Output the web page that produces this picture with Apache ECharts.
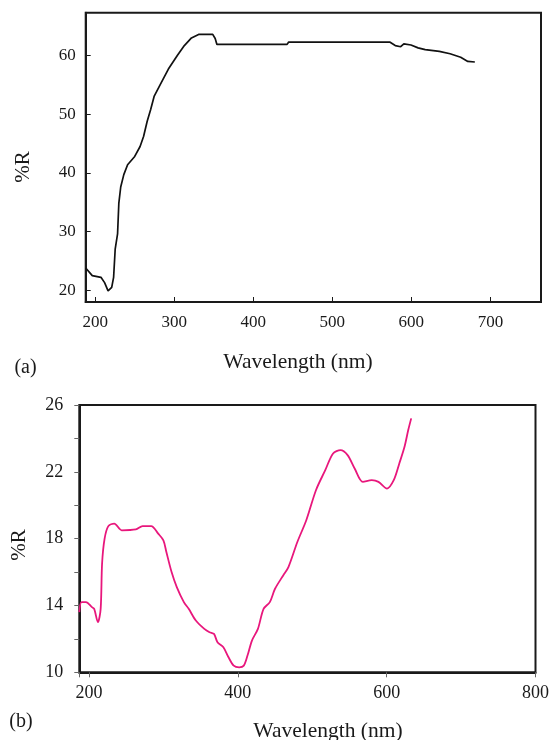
<!DOCTYPE html>
<html>
<head>
  <meta charset="utf-8">
  <title>Reflectance spectra</title>
  <script src="https://cdn.jsdelivr.net/npm/echarts@6/dist/echarts.min.js"></script>
  <style>
    html, body { margin: 0; padding: 0; background: #fff; }
    #chart { width: 552px; height: 740px; }
  </style>
</head>
<body>
  <div id="chart"></div>
  <script>
    // (a) reflectance, black curve
    var wavelengthA = [188, 196.3, 207.3, 211.9, 216.3, 220.9, 223.3, 225.3, 228.3, 229.9, 232.3, 236.2, 241, 250, 256.8, 261.2, 265.8, 270.2, 274.7, 283.6, 292.6, 303.9, 312.8, 321.8, 330.8, 348.7, 351.8, 354, 442.8, 444.8, 572.6, 579.6, 586.5, 590.5, 599.5, 608.5, 617.5, 635.4, 649, 662.4, 671.4, 680.3];
    var reflA = [23.8, 22.5, 22.2, 21.3, 19.9, 20.5, 22.2, 27, 29.6, 34.8, 37.6, 39.7, 41.4, 42.8, 44.5, 46.2, 48.8, 50.8, 53.1, 55.4, 57.7, 60, 61.7, 63, 63.6, 63.6, 62.9, 61.9, 61.9, 62.3, 62.3, 61.7, 61.5, 62, 61.8, 61.3, 61, 60.7, 60.3, 59.7, 59, 58.9];

    // (b) reflectance, pink curve
    var wavelengthB = [187, 190, 196, 204, 207, 212, 215.7, 217.6, 221, 226, 234, 244, 263, 272, 283.6, 293, 300, 304, 311, 318, 327.5, 334, 343.6, 355, 362, 368, 372.7, 380.6, 387.5, 394.5, 401.8, 408, 413, 419, 427, 434.6, 443, 450, 461, 468, 480, 492, 505, 517.5, 528, 538, 547.5, 557, 568, 580, 589, 600.5, 609.5, 617, 624, 629, 633];
    var reflB = [13.6, 14.2, 14.2, 13.9, 13.8, 13.0, 13.8, 16.5, 18, 18.75, 18.9, 18.5, 18.55, 18.75, 18.75, 18.3, 17.9, 17.2, 16, 15.1, 14.2, 13.8, 13.1, 12.6, 12.4, 12.3, 11.8, 11.5, 10.9, 10.4, 10.3, 10.4, 11, 11.9, 12.6, 13.8, 14.2, 15.0, 15.8, 16.3, 17.8, 19.1, 20.9, 22.1, 23.1, 23.3, 23.0, 22.2, 21.4, 21.5, 21.4, 21.0, 21.5, 22.5, 23.5, 24.5, 25.2];

    function pairs(xs, ys) {
      return xs.map(function (x, i) { return [x, ys[i]]; });
    }

    var serif = "'Liberation Serif', 'DejaVu Serif', serif";
    var ink = '#1a1a1a';

    var chart = echarts.init(document.getElementById('chart'));
    chart.setOption({
      animation: false,
      backgroundColor: '#fff',
      grid: [
        { left: 85.7, top: 12.7, width: 455.3, height: 289.3, show: true, borderColor: ink, borderWidth: 2, containLabel: false },
        { left: 79.3, top: 405, width: 464, height: 267.3, show: true, borderColor: ink, borderWidth: 2, containLabel: false }
      ],
      xAxis: [
        {
          gridIndex: 0, type: 'value', min: 188, max: 764,
          axisLine: { show: true, lineStyle: { color: ink, width: 2 } },
          axisTick: { show: true, inside: true, length: 5, lineStyle: { color: ink } },
          splitLine: { show: false },
          axisLabel: {
            margin: 12, color: ink, fontFamily: serif, fontSize: 17,
            formatter: function (v) { return v % 100 === 0 ? String(v) : ''; }
          }
        },
        {
          gridIndex: 1, type: 'value', min: 187, max: 800, splitNumber: 3,
          axisLine: { show: true, lineStyle: { color: ink, width: 2 } },
          axisTick: { show: true, inside: false, length: 5, lineStyle: { color: '#666' } },
          splitLine: { show: false },
          axisLabel: {
            margin: 12, color: ink, fontFamily: serif, fontSize: 18,
            formatter: function (v) { return v % 200 === 0 ? String(v) : ''; }
          }
        }
      ],
      yAxis: [
        {
          gridIndex: 0, type: 'value', min: 18, max: 67.3,
          axisLine: { show: true, lineStyle: { color: ink, width: 2 } },
          axisTick: { show: true, inside: true, length: 5, lineStyle: { color: ink } },
          splitLine: { show: false },
          axisLabel: {
            margin: 10, color: ink, fontFamily: serif, fontSize: 17,
            formatter: function (v) { return v % 10 === 0 ? String(v) : ''; }
          }
        },
        {
          gridIndex: 1, type: 'value', min: 10, max: 26, interval: 2,
          axisLine: { show: true, lineStyle: { color: ink, width: 2 } },
          axisTick: { show: true, inside: false, length: 5, lineStyle: { color: '#666' } },
          splitLine: { show: false },
          axisLabel: {
            margin: 16, color: ink, fontFamily: serif, fontSize: 18,
            formatter: function (v) { return (v - 10) % 4 === 0 ? String(v) : ''; }
          }
        }
      ],
      series: [
        {
          type: 'line', xAxisIndex: 0, yAxisIndex: 0,
          data: pairs(wavelengthA, reflA),
          showSymbol: false, smooth: false,
          lineStyle: { color: '#111', width: 1.7 }
        },
        {
          type: 'line', xAxisIndex: 1, yAxisIndex: 1,
          data: pairs(wavelengthB, reflB),
          showSymbol: false, smooth: 0.3,
          lineStyle: { color: '#e8177c', width: 1.8 }
        }
      ],
      graphic: [
        { type: 'text', x: 23, y: 167, rotation: Math.PI / 2,
          style: { text: '%R', fill: ink, font: '21px ' + serif, align: 'center', verticalAlign: 'middle' } },
        { type: 'text', x: 298, y: 362,
          style: { text: 'Wavelength (nm)', fill: ink, font: '21.5px ' + serif, align: 'center', verticalAlign: 'middle' } },
        { type: 'text', x: 25.5, y: 368,
          style: { text: '(a)', fill: ink, font: '20px ' + serif, align: 'center', verticalAlign: 'middle' } },
        { type: 'text', x: 19, y: 545, rotation: Math.PI / 2,
          style: { text: '%R', fill: ink, font: '21px ' + serif, align: 'center', verticalAlign: 'middle' } },
        { type: 'text', x: 328, y: 731,
          style: { text: 'Wavelength (nm)', fill: ink, font: '21.5px ' + serif, align: 'center', verticalAlign: 'middle' } },
        { type: 'text', x: 21, y: 722,
          style: { text: '(b)', fill: ink, font: '20px ' + serif, align: 'center', verticalAlign: 'middle' } }
      ]
    });
  </script>
</body>
</html>
